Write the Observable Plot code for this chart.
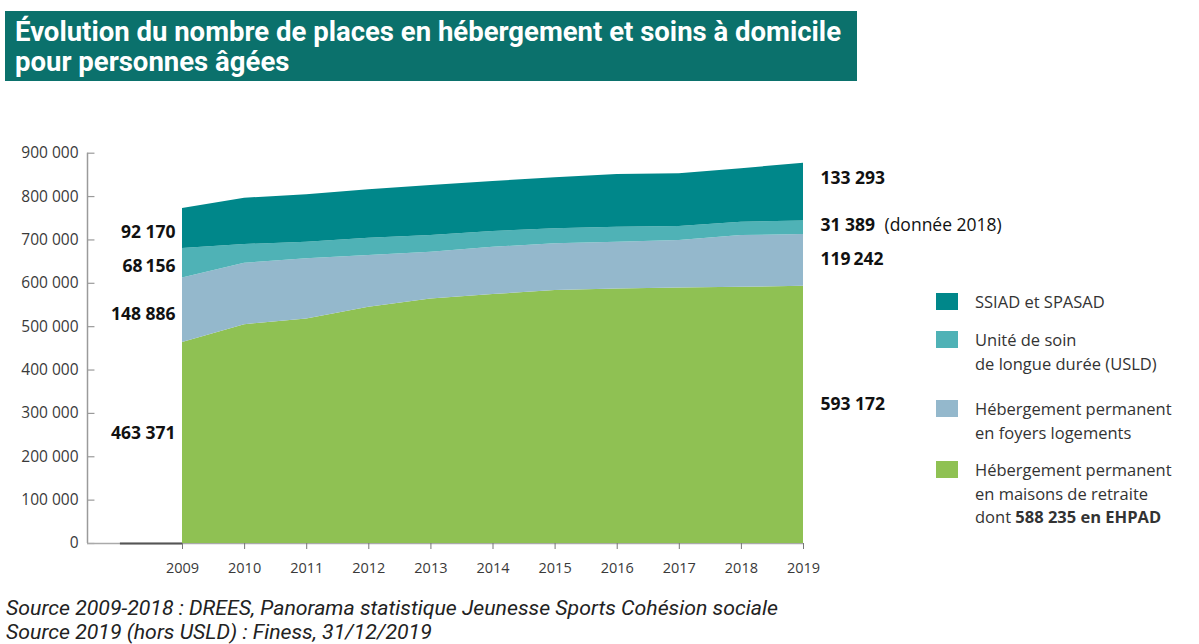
<!DOCTYPE html>
<html lang="fr">
<head>
<meta charset="utf-8">
<script src="https://cdn.jsdelivr.net/npm/d3@7"></script>
<script src="https://cdn.jsdelivr.net/npm/@observablehq/plot@0.6"></script>
<style>
  html, body { margin: 0; padding: 0; background: #fff; }
  #root { position: relative; width: 1199px; height: 644px; overflow: hidden; font-family: "Open Sans", "Noto Sans", sans-serif; }
  #title { position: absolute; left: 5px; top: 11px; width: 852px; height: 70px; background: #0b716c; }
  .tline { position: absolute; left: 10px; white-space: nowrap; color: #fff; font-family: Roboto, "Open Sans", sans-serif;
    font-weight: bold; font-size: 28.5px; line-height: 27px; transform-origin: 0 0; }
  #chart { position: absolute; left: 0; top: 130px; }
  .leg { position: absolute; left: 936px; font-size: 16.5px; line-height: 23.5px; color: #333; }
  .leg .sw { position: absolute; left: 0; top: 3px; width: 22px; height: 17px; }
  .leg .tx { position: absolute; left: 39px; top: 0; white-space: nowrap; }
  .sline { position: absolute; left: 6px; font-family: Roboto, "Open Sans", sans-serif; font-style: italic;
    font-size: 21px; line-height: 22px; color: #222; white-space: nowrap; transform-origin: 0 0; }
</style>
</head>
<body>
<div id="root">
  <div id="title">
    <div class="tline" id="t1" style="top:7px">Évolution du nombre de places en hébergement et soins à domicile</div>
    <div class="tline" id="t2" style="top:37px">pour personnes âgées</div>
  </div>
  <div id="chart"></div>
  <div id="legend"></div>
  <div class="sline" id="s1" style="top:597px">Source 2009-2018 : DREES, Panorama statistique Jeunesse Sports Cohésion sociale</div>
  <div class="sline" id="s2" style="top:621px">Source 2019 (hors USLD) : Finess, 31/12/2019</div>
</div>
<script>
// ---- Data ----
const years = [2009, 2010, 2011, 2012, 2013, 2014, 2015, 2016, 2017, 2018, 2019];
const maisons = [463371, 504700, 517900, 544700, 564000, 574000, 583200, 587100, 589400, 590800, 593172];
const foyers  = [148886, 141500, 138500, 119300, 107600, 109100, 107800, 107600, 109200, 119300, 119242];
const usld    = [68156, 43200, 38300, 39900, 38500, 36600, 34600, 34600, 32300, 30700, 31389];
const ssiad   = [92170, 106800, 109300, 111700, 115400, 115100, 117700, 121600, 121600, 123300, 133293];
const seriesNames = [
  "Hébergement permanent en maisons de retraite",
  "Hébergement permanent en foyers logements",
  "Unité de soin de longue durée (USLD)",
  "SSIAD et SPASAD"
];
const seriesColors = ["#8fc153", "#94b8cc", "#4fb2b6", "#00878a"];
const yTicks = [0, 100000, 200000, 300000, 400000, 500000, 600000, 700000, 800000, 900000];
const leftLabels  = ["463 371", "148 886", "68\u2009156", "92 170"];
const rightLabels = ["593 172", "119\u2009242", "31 389", "133 293"];
const rightNote = "(donnée 2018)";
const legendLines = [
  ["SSIAD et SPASAD"],
  ["Unité de soin", "de longue durée (USLD)"],
  ["Hébergement permanent", "en foyers logements"],
  ["Hébergement permanent", "en maisons de retraite", "dont <b>588 235 en EHPAD</b>"]
];

// ---- Build table ----
const seriesValues = [maisons, foyers, usld, ssiad];
const table = [];
seriesNames.forEach((s, i) => years.forEach((yr, j) => table.push({year: yr, series: s, value: seriesValues[i][j]})));

function midpoints(j) {
  let cum = 0;
  return seriesValues.map((vals, i) => { const lo = cum; cum += vals[j]; return {series: seriesNames[i], mid: (lo + cum) / 2}; });
}
const leftMid = midpoints(0).map((d, i) => ({...d, label: leftLabels[i]}));
const rightMid = midpoints(years.length - 1).map((d, i) => ({...d, label: rightLabels[i]}));

const xMin = 2007.47, xMax = years[years.length - 1], x0 = years[0];
const fmt = d => d === 0 ? "0" : d3.format(",")(d).replace(/,/g, " ");

const leftDy = [-10, 4, 3, 4];
const rightDy = [-10, -1, -2, -14];
const labelFont = '"Open Sans", "Noto Sans", sans-serif';

const textMarks = [];
leftMid.forEach((d, i) => textMarks.push(Plot.text([d], {x: () => x0, y: "mid", text: "label", textAnchor: "end", dx: -7, dy: leftDy[i], fontWeight: "bold", fontSize: 17.5, fill: "#111", fontFamily: labelFont})));
rightMid.forEach((d, i) => textMarks.push(Plot.text([d], {x: () => xMax, y: "mid", text: "label", textAnchor: "start", dx: 17, dy: rightDy[i], fontWeight: "bold", fontSize: 17.5, fill: "#111", fontFamily: labelFont})));
textMarks.push(Plot.text([rightMid[2]], {x: () => xMax, y: "mid", text: () => rightNote, textAnchor: "start", dx: 81, dy: rightDy[2], fontSize: 17.5, fill: "#111", fontFamily: labelFont}));

const chart = Plot.plot({
  width: 1199,
  height: 463,
  marginLeft: 87,
  marginRight: 1199 - 803,
  marginTop: 22.7,
  marginBottom: 50,
  style: {fontFamily: labelFont, color: "#3a3a3a", background: "transparent", overflow: "visible"},
  x: {domain: [xMin, xMax], label: null},
  y: {domain: [0, 900000], label: null},
  color: {domain: seriesNames, range: seriesColors},
  marks: [
    Plot.ruleX([xMin], {y1: 0, y2: 900000, stroke: "#9a9a9a", strokeWidth: 1.5}),
    Plot.ruleY(yTicks, {x1: xMin, x2: xMin + 0.12, stroke: "#9a9a9a", strokeWidth: 1.2}),
    Plot.ruleY([0], {x1: xMin, x2: xMax, stroke: "#aaa", strokeWidth: 1.5}),
    Plot.ruleY([0], {x1: 2008, x2: x0, stroke: "#555", strokeWidth: 2}),
    Plot.areaY(table, {x: "year", y: "value", fill: "series", order: seriesNames}),
    Plot.axisY({ticks: yTicks, tickFormat: fmt, tickSize: 0, tickPadding: 9, fontSize: 15.5, label: null}),
    Plot.axisX({ticks: years, tickFormat: d => String(d), tickSize: 6, tickPadding: 13, fontSize: 14.5, stroke: "#777", label: null}),
    ...textMarks
  ]
});
document.getElementById("chart").appendChild(chart);

// ---- Legend ----
const legendTops = [290, 328, 397, 458];
const legendOrder = [3, 2, 1, 0];
const legend = document.getElementById("legend");
legendLines.forEach((lines, k) => {
  const item = document.createElement("div");
  item.className = "leg";
  item.style.top = legendTops[k] + "px";
  const sw = document.createElement("div");
  sw.className = "sw";
  sw.style.background = seriesColors[legendOrder[k]];
  const tx = document.createElement("div");
  tx.className = "tx";
  tx.innerHTML = lines.join("<br>");
  item.appendChild(sw);
  item.appendChild(tx);
  legend.appendChild(item);
});

// ---- Condense title and source lines to the reference widths ----
function condense(ids, targetWidth) {
  const first = document.getElementById(ids[0]);
  const k = targetWidth / first.getBoundingClientRect().width;
  ids.forEach(id => { document.getElementById(id).style.transform = `scaleX(${k})`; });
}
condense(["t1", "t2"], 826);
condense(["s1", "s2"], 772);
</script>
</body>
</html>
